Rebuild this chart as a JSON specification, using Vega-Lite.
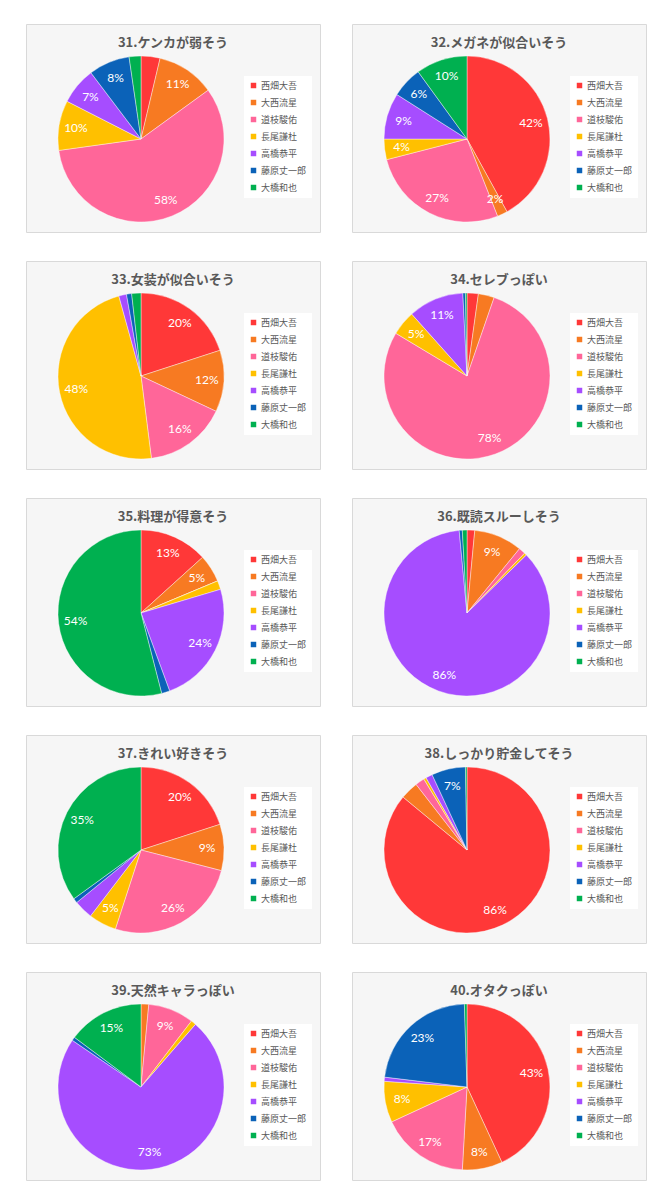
{
  "$schema": "https://vega.github.io/schema/vega-lite/v6.json",
  "padding": {"left": 25, "top": 23, "right": 0, "bottom": 0},
  "background": "white",
  "columns": 2,
  "spacing": {"row": 27, "column": 30},
  "resolve": {"legend": {"color": "independent"}},
  "data": {"values": [
    {"q": 31, "name": "西畑大吾", "k": 1, "share": 0.037, "lab": false},
    {"q": 31, "name": "大西流星", "k": 2, "share": 0.113, "lab": true},
    {"q": 31, "name": "道枝駿佑", "k": 3, "share": 0.578, "lab": true},
    {"q": 31, "name": "長尾謙杜", "k": 4, "share": 0.097, "lab": true},
    {"q": 31, "name": "高橋恭平", "k": 5, "share": 0.072, "lab": true},
    {"q": 31, "name": "藤原丈一郎", "k": 6, "share": 0.080, "lab": true},
    {"q": 31, "name": "大橋和也", "k": 7, "share": 0.023, "lab": false},

    {"q": 32, "name": "西畑大吾", "k": 1, "share": 0.42, "lab": true},
    {"q": 32, "name": "大西流星", "k": 2, "share": 0.02, "lab": true},
    {"q": 32, "name": "道枝駿佑", "k": 3, "share": 0.27, "lab": true},
    {"q": 32, "name": "長尾謙杜", "k": 4, "share": 0.04, "lab": true},
    {"q": 32, "name": "高橋恭平", "k": 5, "share": 0.09, "lab": true},
    {"q": 32, "name": "藤原丈一郎", "k": 6, "share": 0.06, "lab": true},
    {"q": 32, "name": "大橋和也", "k": 7, "share": 0.10, "lab": true},

    {"q": 33, "name": "西畑大吾", "k": 1, "share": 0.20, "lab": true},
    {"q": 33, "name": "大西流星", "k": 2, "share": 0.12, "lab": true},
    {"q": 33, "name": "道枝駿佑", "k": 3, "share": 0.16, "lab": true},
    {"q": 33, "name": "長尾謙杜", "k": 4, "share": 0.477, "lab": true},
    {"q": 33, "name": "高橋恭平", "k": 5, "share": 0.015, "lab": false},
    {"q": 33, "name": "藤原丈一郎", "k": 6, "share": 0.010, "lab": false},
    {"q": 33, "name": "大橋和也", "k": 7, "share": 0.018, "lab": false},

    {"q": 34, "name": "西畑大吾", "k": 1, "share": 0.022, "lab": false},
    {"q": 34, "name": "大西流星", "k": 2, "share": 0.031, "lab": false},
    {"q": 34, "name": "道枝駿佑", "k": 3, "share": 0.783, "lab": true},
    {"q": 34, "name": "長尾謙杜", "k": 4, "share": 0.048, "lab": true},
    {"q": 34, "name": "高橋恭平", "k": 5, "share": 0.108, "lab": true},
    {"q": 34, "name": "藤原丈一郎", "k": 6, "share": 0.005, "lab": false},
    {"q": 34, "name": "大橋和也", "k": 7, "share": 0.003, "lab": false},

    {"q": 35, "name": "西畑大吾", "k": 1, "share": 0.133, "lab": true},
    {"q": 35, "name": "大西流星", "k": 2, "share": 0.054, "lab": true},
    {"q": 35, "name": "道枝駿佑", "k": 3, "share": 0.0, "lab": false},
    {"q": 35, "name": "長尾謙杜", "k": 4, "share": 0.017, "lab": false},
    {"q": 35, "name": "高橋恭平", "k": 5, "share": 0.240, "lab": true},
    {"q": 35, "name": "藤原丈一郎", "k": 6, "share": 0.016, "lab": false},
    {"q": 35, "name": "大橋和也", "k": 7, "share": 0.540, "lab": true},

    {"q": 36, "name": "西畑大吾", "k": 1, "share": 0.015, "lab": false},
    {"q": 36, "name": "大西流星", "k": 2, "share": 0.094, "lab": true},
    {"q": 36, "name": "道枝駿佑", "k": 3, "share": 0.013, "lab": false},
    {"q": 36, "name": "長尾謙杜", "k": 4, "share": 0.005, "lab": false},
    {"q": 36, "name": "高橋恭平", "k": 5, "share": 0.858, "lab": true},
    {"q": 36, "name": "藤原丈一郎", "k": 6, "share": 0.006, "lab": false},
    {"q": 36, "name": "大橋和也", "k": 7, "share": 0.009, "lab": false},

    {"q": 37, "name": "西畑大吾", "k": 1, "share": 0.200, "lab": true},
    {"q": 37, "name": "大西流星", "k": 2, "share": 0.090, "lab": true},
    {"q": 37, "name": "道枝駿佑", "k": 3, "share": 0.260, "lab": true},
    {"q": 37, "name": "長尾謙杜", "k": 4, "share": 0.054, "lab": true},
    {"q": 37, "name": "高橋恭平", "k": 5, "share": 0.037, "lab": false},
    {"q": 37, "name": "藤原丈一郎", "k": 6, "share": 0.009, "lab": false},
    {"q": 37, "name": "大橋和也", "k": 7, "share": 0.350, "lab": true},

    {"q": 38, "name": "西畑大吾", "k": 1, "share": 0.860, "lab": true},
    {"q": 38, "name": "大西流星", "k": 2, "share": 0.035, "lab": false},
    {"q": 38, "name": "道枝駿佑", "k": 3, "share": 0.018, "lab": false},
    {"q": 38, "name": "長尾謙杜", "k": 4, "share": 0.005, "lab": false},
    {"q": 38, "name": "高橋恭平", "k": 5, "share": 0.013, "lab": false},
    {"q": 38, "name": "藤原丈一郎", "k": 6, "share": 0.066, "lab": true},
    {"q": 38, "name": "大橋和也", "k": 7, "share": 0.003, "lab": false},

    {"q": 39, "name": "西畑大吾", "k": 1, "share": 0.0, "lab": false},
    {"q": 39, "name": "大西流星", "k": 2, "share": 0.015, "lab": false},
    {"q": 39, "name": "道枝駿佑", "k": 3, "share": 0.089, "lab": true},
    {"q": 39, "name": "長尾謙杜", "k": 4, "share": 0.010, "lab": false},
    {"q": 39, "name": "高橋恭平", "k": 5, "share": 0.731, "lab": true},
    {"q": 39, "name": "藤原丈一郎", "k": 6, "share": 0.007, "lab": false},
    {"q": 39, "name": "大橋和也", "k": 7, "share": 0.148, "lab": true},

    {"q": 40, "name": "西畑大吾", "k": 1, "share": 0.431, "lab": true},
    {"q": 40, "name": "大西流星", "k": 2, "share": 0.078, "lab": true},
    {"q": 40, "name": "道枝駿佑", "k": 3, "share": 0.172, "lab": true},
    {"q": 40, "name": "長尾謙杜", "k": 4, "share": 0.080, "lab": true},
    {"q": 40, "name": "高橋恭平", "k": 5, "share": 0.008, "lab": false},
    {"q": 40, "name": "藤原丈一郎", "k": 6, "share": 0.226, "lab": true},
    {"q": 40, "name": "大橋和也", "k": 7, "share": 0.005, "lab": false}
  ]},
  "concat": [
    {"title": "31.ケンカが弱そう", "transform": [{"filter": "datum.q == 31"}], "width": 294, "height": 208, "view": {"stroke": "#d9d9d9", "fill": "#f6f6f6"},
     "layer": [
      {"mark": {"type": "arc", "outerRadius": 83, "stroke": "white", "strokeWidth": 0.4, "x": 115, "y": 115},
       "encoding": {"theta": {"field": "share", "type": "quantitative", "stack": true}, "order": {"field": "k", "type": "quantitative"},
        "color": {"field": "name", "type": "nominal", "scale": {"domain": ["西畑大吾", "大西流星", "道枝駿佑", "長尾謙杜", "高橋恭平", "藤原丈一郎", "大橋和也"], "range": ["#FF3838", "#F77A22", "#FF6699", "#FFC000", "#A64DFF", "#0B62B8", "#00B050"]}, "legend": {"title": null}}}},
      {"mark": {"type": "text", "radius": 66, "fill": "white", "fontSize": 12, "font": "Lato", "x": 115, "y": 115},
       "encoding": {"theta": {"field": "share", "type": "quantitative", "stack": true}, "order": {"field": "k", "type": "quantitative"}, "detail": {"field": "name", "type": "nominal"},
        "text": {"condition": {"test": "datum.lab", "field": "share", "type": "quantitative", "format": ".0%"}, "value": ""}}}
     ]},
    {"title": "32.メガネが似合いそう", "transform": [{"filter": "datum.q == 32"}], "width": 294, "height": 208, "view": {"stroke": "#d9d9d9", "fill": "#f6f6f6"},
     "layer": [
      {"mark": {"type": "arc", "outerRadius": 83, "stroke": "white", "strokeWidth": 0.4, "x": 115, "y": 115},
       "encoding": {"theta": {"field": "share", "type": "quantitative", "stack": true}, "order": {"field": "k", "type": "quantitative"},
        "color": {"field": "name", "type": "nominal", "scale": {"domain": ["西畑大吾", "大西流星", "道枝駿佑", "長尾謙杜", "高橋恭平", "藤原丈一郎", "大橋和也"], "range": ["#FF3838", "#F77A22", "#FF6699", "#FFC000", "#A64DFF", "#0B62B8", "#00B050"]}, "legend": {"title": null}}}},
      {"mark": {"type": "text", "radius": 66, "fill": "white", "fontSize": 12, "font": "Lato", "x": 115, "y": 115},
       "encoding": {"theta": {"field": "share", "type": "quantitative", "stack": true}, "order": {"field": "k", "type": "quantitative"}, "detail": {"field": "name", "type": "nominal"},
        "text": {"condition": {"test": "datum.lab", "field": "share", "type": "quantitative", "format": ".0%"}, "value": ""}}}
     ]},
    {"title": "33.女装が似合いそう", "transform": [{"filter": "datum.q == 33"}], "width": 294, "height": 208, "view": {"stroke": "#d9d9d9", "fill": "#f6f6f6"},
     "layer": [
      {"mark": {"type": "arc", "outerRadius": 83, "stroke": "white", "strokeWidth": 0.4, "x": 115, "y": 115},
       "encoding": {"theta": {"field": "share", "type": "quantitative", "stack": true}, "order": {"field": "k", "type": "quantitative"},
        "color": {"field": "name", "type": "nominal", "scale": {"domain": ["西畑大吾", "大西流星", "道枝駿佑", "長尾謙杜", "高橋恭平", "藤原丈一郎", "大橋和也"], "range": ["#FF3838", "#F77A22", "#FF6699", "#FFC000", "#A64DFF", "#0B62B8", "#00B050"]}, "legend": {"title": null}}}},
      {"mark": {"type": "text", "radius": 66, "fill": "white", "fontSize": 12, "font": "Lato", "x": 115, "y": 115},
       "encoding": {"theta": {"field": "share", "type": "quantitative", "stack": true}, "order": {"field": "k", "type": "quantitative"}, "detail": {"field": "name", "type": "nominal"},
        "text": {"condition": {"test": "datum.lab", "field": "share", "type": "quantitative", "format": ".0%"}, "value": ""}}}
     ]},
    {"title": "34.セレブっぽい", "transform": [{"filter": "datum.q == 34"}], "width": 294, "height": 208, "view": {"stroke": "#d9d9d9", "fill": "#f6f6f6"},
     "layer": [
      {"mark": {"type": "arc", "outerRadius": 83, "stroke": "white", "strokeWidth": 0.4, "x": 115, "y": 115},
       "encoding": {"theta": {"field": "share", "type": "quantitative", "stack": true}, "order": {"field": "k", "type": "quantitative"},
        "color": {"field": "name", "type": "nominal", "scale": {"domain": ["西畑大吾", "大西流星", "道枝駿佑", "長尾謙杜", "高橋恭平", "藤原丈一郎", "大橋和也"], "range": ["#FF3838", "#F77A22", "#FF6699", "#FFC000", "#A64DFF", "#0B62B8", "#00B050"]}, "legend": {"title": null}}}},
      {"mark": {"type": "text", "radius": 66, "fill": "white", "fontSize": 12, "font": "Lato", "x": 115, "y": 115},
       "encoding": {"theta": {"field": "share", "type": "quantitative", "stack": true}, "order": {"field": "k", "type": "quantitative"}, "detail": {"field": "name", "type": "nominal"},
        "text": {"condition": {"test": "datum.lab", "field": "share", "type": "quantitative", "format": ".0%"}, "value": ""}}}
     ]},
    {"title": "35.料理が得意そう", "transform": [{"filter": "datum.q == 35"}], "width": 294, "height": 208, "view": {"stroke": "#d9d9d9", "fill": "#f6f6f6"},
     "layer": [
      {"mark": {"type": "arc", "outerRadius": 83, "stroke": "white", "strokeWidth": 0.4, "x": 115, "y": 115},
       "encoding": {"theta": {"field": "share", "type": "quantitative", "stack": true}, "order": {"field": "k", "type": "quantitative"},
        "color": {"field": "name", "type": "nominal", "scale": {"domain": ["西畑大吾", "大西流星", "道枝駿佑", "長尾謙杜", "高橋恭平", "藤原丈一郎", "大橋和也"], "range": ["#FF3838", "#F77A22", "#FF6699", "#FFC000", "#A64DFF", "#0B62B8", "#00B050"]}, "legend": {"title": null}}}},
      {"mark": {"type": "text", "radius": 66, "fill": "white", "fontSize": 12, "font": "Lato", "x": 115, "y": 115},
       "encoding": {"theta": {"field": "share", "type": "quantitative", "stack": true}, "order": {"field": "k", "type": "quantitative"}, "detail": {"field": "name", "type": "nominal"},
        "text": {"condition": {"test": "datum.lab", "field": "share", "type": "quantitative", "format": ".0%"}, "value": ""}}}
     ]},
    {"title": "36.既読スルーしそう", "transform": [{"filter": "datum.q == 36"}], "width": 294, "height": 208, "view": {"stroke": "#d9d9d9", "fill": "#f6f6f6"},
     "layer": [
      {"mark": {"type": "arc", "outerRadius": 83, "stroke": "white", "strokeWidth": 0.4, "x": 115, "y": 115},
       "encoding": {"theta": {"field": "share", "type": "quantitative", "stack": true}, "order": {"field": "k", "type": "quantitative"},
        "color": {"field": "name", "type": "nominal", "scale": {"domain": ["西畑大吾", "大西流星", "道枝駿佑", "長尾謙杜", "高橋恭平", "藤原丈一郎", "大橋和也"], "range": ["#FF3838", "#F77A22", "#FF6699", "#FFC000", "#A64DFF", "#0B62B8", "#00B050"]}, "legend": {"title": null}}}},
      {"mark": {"type": "text", "radius": 66, "fill": "white", "fontSize": 12, "font": "Lato", "x": 115, "y": 115},
       "encoding": {"theta": {"field": "share", "type": "quantitative", "stack": true}, "order": {"field": "k", "type": "quantitative"}, "detail": {"field": "name", "type": "nominal"},
        "text": {"condition": {"test": "datum.lab", "field": "share", "type": "quantitative", "format": ".0%"}, "value": ""}}}
     ]},
    {"title": "37.きれい好きそう", "transform": [{"filter": "datum.q == 37"}], "width": 294, "height": 208, "view": {"stroke": "#d9d9d9", "fill": "#f6f6f6"},
     "layer": [
      {"mark": {"type": "arc", "outerRadius": 83, "stroke": "white", "strokeWidth": 0.4, "x": 115, "y": 115},
       "encoding": {"theta": {"field": "share", "type": "quantitative", "stack": true}, "order": {"field": "k", "type": "quantitative"},
        "color": {"field": "name", "type": "nominal", "scale": {"domain": ["西畑大吾", "大西流星", "道枝駿佑", "長尾謙杜", "高橋恭平", "藤原丈一郎", "大橋和也"], "range": ["#FF3838", "#F77A22", "#FF6699", "#FFC000", "#A64DFF", "#0B62B8", "#00B050"]}, "legend": {"title": null}}}},
      {"mark": {"type": "text", "radius": 66, "fill": "white", "fontSize": 12, "font": "Lato", "x": 115, "y": 115},
       "encoding": {"theta": {"field": "share", "type": "quantitative", "stack": true}, "order": {"field": "k", "type": "quantitative"}, "detail": {"field": "name", "type": "nominal"},
        "text": {"condition": {"test": "datum.lab", "field": "share", "type": "quantitative", "format": ".0%"}, "value": ""}}}
     ]},
    {"title": "38.しっかり貯金してそう", "transform": [{"filter": "datum.q == 38"}], "width": 294, "height": 208, "view": {"stroke": "#d9d9d9", "fill": "#f6f6f6"},
     "layer": [
      {"mark": {"type": "arc", "outerRadius": 83, "stroke": "white", "strokeWidth": 0.4, "x": 115, "y": 115},
       "encoding": {"theta": {"field": "share", "type": "quantitative", "stack": true}, "order": {"field": "k", "type": "quantitative"},
        "color": {"field": "name", "type": "nominal", "scale": {"domain": ["西畑大吾", "大西流星", "道枝駿佑", "長尾謙杜", "高橋恭平", "藤原丈一郎", "大橋和也"], "range": ["#FF3838", "#F77A22", "#FF6699", "#FFC000", "#A64DFF", "#0B62B8", "#00B050"]}, "legend": {"title": null}}}},
      {"mark": {"type": "text", "radius": 66, "fill": "white", "fontSize": 12, "font": "Lato", "x": 115, "y": 115},
       "encoding": {"theta": {"field": "share", "type": "quantitative", "stack": true}, "order": {"field": "k", "type": "quantitative"}, "detail": {"field": "name", "type": "nominal"},
        "text": {"condition": {"test": "datum.lab", "field": "share", "type": "quantitative", "format": ".0%"}, "value": ""}}}
     ]},
    {"title": "39.天然キャラっぽい", "transform": [{"filter": "datum.q == 39"}], "width": 294, "height": 208, "view": {"stroke": "#d9d9d9", "fill": "#f6f6f6"},
     "layer": [
      {"mark": {"type": "arc", "outerRadius": 83, "stroke": "white", "strokeWidth": 0.4, "x": 115, "y": 115},
       "encoding": {"theta": {"field": "share", "type": "quantitative", "stack": true}, "order": {"field": "k", "type": "quantitative"},
        "color": {"field": "name", "type": "nominal", "scale": {"domain": ["西畑大吾", "大西流星", "道枝駿佑", "長尾謙杜", "高橋恭平", "藤原丈一郎", "大橋和也"], "range": ["#FF3838", "#F77A22", "#FF6699", "#FFC000", "#A64DFF", "#0B62B8", "#00B050"]}, "legend": {"title": null}}}},
      {"mark": {"type": "text", "radius": 66, "fill": "white", "fontSize": 12, "font": "Lato", "x": 115, "y": 115},
       "encoding": {"theta": {"field": "share", "type": "quantitative", "stack": true}, "order": {"field": "k", "type": "quantitative"}, "detail": {"field": "name", "type": "nominal"},
        "text": {"condition": {"test": "datum.lab", "field": "share", "type": "quantitative", "format": ".0%"}, "value": ""}}}
     ]},
    {"title": "40.オタクっぽい", "transform": [{"filter": "datum.q == 40"}], "width": 294, "height": 208, "view": {"stroke": "#d9d9d9", "fill": "#f6f6f6"},
     "layer": [
      {"mark": {"type": "arc", "outerRadius": 83, "stroke": "white", "strokeWidth": 0.4, "x": 115, "y": 115},
       "encoding": {"theta": {"field": "share", "type": "quantitative", "stack": true}, "order": {"field": "k", "type": "quantitative"},
        "color": {"field": "name", "type": "nominal", "scale": {"domain": ["西畑大吾", "大西流星", "道枝駿佑", "長尾謙杜", "高橋恭平", "藤原丈一郎", "大橋和也"], "range": ["#FF3838", "#F77A22", "#FF6699", "#FFC000", "#A64DFF", "#0B62B8", "#00B050"]}, "legend": {"title": null}}}},
      {"mark": {"type": "text", "radius": 66, "fill": "white", "fontSize": 12, "font": "Lato", "x": 115, "y": 115},
       "encoding": {"theta": {"field": "share", "type": "quantitative", "stack": true}, "order": {"field": "k", "type": "quantitative"}, "detail": {"field": "name", "type": "nominal"},
        "text": {"condition": {"test": "datum.lab", "field": "share", "type": "quantitative", "format": ".0%"}, "value": ""}}}
     ]}
  ],
  "config": {
    "view": {"stroke": "#d9d9d9", "fill": "#f6f6f6"},
    "title": {"fontSize": 13, "fontWeight": "bold", "color": "#595959", "font": "Noto Sans CJK JP", "offset": -26, "baseline": "middle", "anchor": "middle"},
    "legend": {"orient": "none", "legendX": 218, "legendY": 52, "fillColor": "white", "padding": 5, "symbolType": "square", "symbolSize": 30, "symbolStrokeWidth": 0, "labelFontSize": 9, "labelColor": "#595959", "labelFont": "Noto Sans CJK JP", "rowPadding": 7, "labelOffset": 3}
  }
}
